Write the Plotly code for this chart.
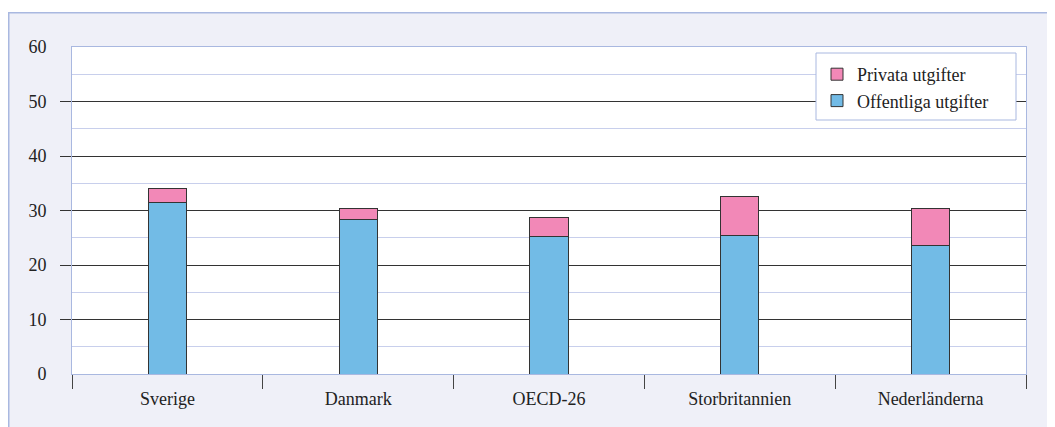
import plotly.graph_objects as go

# utgifter som andel, per land
countries = ['Sverige', 'Danmark', 'OECD-26', 'Storbritannien', 'Nederländerna']
offentliga = [31.4, 28.3, 25.3, 25.5, 23.5]
privata = [2.6, 2.0, 3.4, 7.0, 6.8]

y_ticks = [0, 10, 20, 30, 40, 50, 60]
y_dark = [10, 20, 30, 40, 50]
y_light = [5, 15, 25, 35, 45, 55]

# page has an 8px body margin, so the figure is a bit smaller than the window
W, H = 1047, 419
ML, MR, MT, MB = 64, 29, 39, 53
PW, PH = W - ML - MR, H - MT - MB

font = dict(family='Liberation Serif, Times New Roman, serif', size=18, color='#222222')
edge = '#A9B8E0'


def px_x(p):
    return (p - ML) / PW


def px_y(p):
    return (H - MB - p) / PH


fig = go.Figure()
fig.add_trace(go.Bar(
    name='Offentliga utgifter',
    x=countries,
    y=offentliga,
    marker=dict(color='#72BBE6', line=dict(color='#333333', width=1)),
))
fig.add_trace(go.Bar(
    name='Privata utgifter',
    x=countries,
    y=privata,
    marker=dict(color='#F288B7', line=dict(color='#333333', width=1)),
))
# carrier so the dark grid axis gets drawn
fig.add_trace(go.Scatter(
    x=countries, y=offentliga, yaxis='y2', mode='markers',
    marker=dict(opacity=0), showlegend=False, hoverinfo='skip',
))

shapes = [
    # white strip above the framed box
    dict(type='rect', xref='paper', yref='paper', layer='below',
         x0=-1, x1=2, y0=px_y(4), y1=2, fillcolor='white', line=dict(width=0)),
    # frame
    dict(type='rect', xref='paper', yref='paper', layer='below',
         x0=px_x(0.75), x1=px_x(1070), y0=px_y(440), y1=px_y(4.75),
         fillcolor='rgba(0,0,0,0)', line=dict(color=edge, width=1.5)),
    # legend box (a bit wider than plotly's own)
    dict(type='rect', xref='paper', yref='paper', layer='above',
         x0=px_x(808), x1=px_x(1008), y0=px_y(112), y1=px_y(45),
         fillcolor='white', line=dict(color=edge, width=1)),
]

fig.update_layout(
    width=W, height=H,
    margin=dict(l=ML, r=MR, t=MT, b=MB),
    barmode='stack',
    bargap=0.8,
    paper_bgcolor='#EFF0F8',
    plot_bgcolor='white',
    font=font,
    shapes=shapes,
    showlegend=True,
    legend=dict(
        x=px_x(809), y=px_y(48), xanchor='left', yanchor='top',
        bgcolor='rgba(0,0,0,0)', borderwidth=0,
        traceorder='reversed', font=font, tracegroupgap=0,
    ),
    xaxis=dict(
        type='category',
        showline=True, linecolor=edge, linewidth=1, mirror=True,
        ticks='outside', tickson='boundaries', ticklen=14,
        tickcolor='#444444', tickwidth=1,
        showgrid=False, ticklabelstandoff=8,
    ),
    yaxis=dict(
        range=[0, 60], tickvals=y_ticks,
        showline=True, linecolor=edge, linewidth=1, mirror=True,
        ticks='', showgrid=False, zeroline=False,
        ticklabelstandoff=21,
        minor=dict(tickvals=y_light, showgrid=True, gridcolor='#C8CFEC', gridwidth=1, ticks=''),
    ),
    yaxis2=dict(
        range=[0, 60], overlaying='y', side='left', anchor='x',
        tickvals=y_dark, showticklabels=False,
        ticks='outside', ticklen=11, tickcolor='#333333', tickwidth=1,
        showgrid=True, gridcolor='#333333', gridwidth=1, zeroline=False,
        showline=False,
    ),
)

fig.write_html('out.html')
